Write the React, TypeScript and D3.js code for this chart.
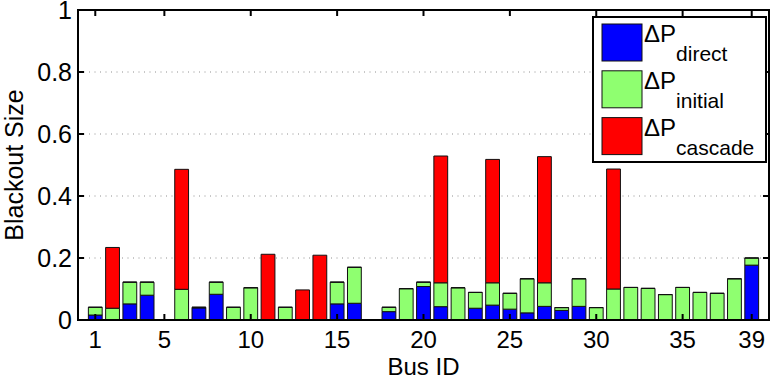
import React from 'react';
import * as d3 from 'd3';

// bus ids along the x axis
const busIds = [1, 2, 3, 4, 5, 6, 7, 8, 9, 10, 11, 12, 13, 14, 15, 16, 17, 18, 19, 20,
  21, 22, 23, 24, 25, 26, 27, 28, 29, 30, 31, 32, 33, 34, 35, 36, 37, 38, 39];

// stacked segment heights
const direct = [0.016, 0, 0.052, 0.080, 0, 0, 0.039, 0.083, 0, 0, 0, 0, 0, 0, 0.052, 0.054, 0, 0.027, 0, 0.108,
  0.043, 0, 0.038, 0.048, 0.035, 0.023, 0.044, 0.031, 0.044, 0, 0, 0, 0, 0, 0, 0, 0, 0, 0.177];
const initial = [0.025, 0.038, 0.070, 0.042, 0, 0.099, 0.002, 0.039, 0.041, 0.104, 0, 0.041, 0, 0, 0.070, 0.116, 0, 0.014, 0.101, 0.014,
  0.077, 0.104, 0.051, 0.072, 0.051, 0.110, 0.076, 0.009, 0.089, 0.040, 0.100, 0.105, 0.102, 0.082, 0.105, 0.089, 0.086, 0.133, 0.023];
const cascade = [0, 0.196, 0, 0, 0, 0.387, 0, 0, 0, 0, 0.212, 0, 0.097, 0.209, 0, 0, 0, 0, 0, 0,
  0.409, 0, 0, 0.398, 0, 0, 0.407, 0, 0, 0, 0.387, 0, 0, 0, 0, 0, 0, 0, 0];

const xTicks = [1, 5, 10, 15, 20, 25, 30, 35, 39];
const yTicks = [0, 0.2, 0.4, 0.6, 0.8, 1];
const yTickLabels = ['0', '0.2', '0.4', '0.6', '0.8', '1'];

const seriesNames = ['direct', 'initial', 'cascade'];
const colors = ['#0000ff', '#8fff70', '#ff0000'];

const W = 772;
const H = 381;
const left = 78, right = 769, top = 10, bottom = 320;
const font = '"Liberation Sans", Arial, Helvetica, sans-serif';

export default function App() {
  const x = d3.scaleLinear().domain([0, 40]).range([left, right]);
  const y = d3.scaleLinear().domain([0, 1]).range([bottom, top]);
  const barW = x(0.8) - x(0);

  const stackData = busIds.map((id, i) => ({ id, direct: direct[i], initial: initial[i], cascade: cascade[i] }));
  const stacked = d3.stack<any>().keys(seriesNames)(stackData);

  const segPath = (x0: number, y0: number, y1: number) => {
    const p = d3.path();
    p.rect(x0, y(y1), barW, y(y0) - y(y1));
    return p.toString();
  };

  const tickLen = 6;

  return (
    <svg width={W} height={H} style={{ position: 'absolute', left: 0, top: 0, background: '#fff' }}
      fontFamily={font}>
      <rect x={0} y={0} width={W} height={H} fill="#fff" />

      {/* grid */}
      {yTicks.slice(1, -1).map(t => (
        <line key={'g' + t} x1={left} x2={right} y1={y(t)} y2={y(t)}
          stroke="#909090" strokeWidth={1} strokeDasharray="1,4.5" />
      ))}

      {/* bars */}
      {stacked.map((layer, si) => (
        <g key={seriesNames[si]}>
          {layer.map((d, i) => (
            <path key={i} d={segPath(x(busIds[i]) - barW / 2, d[0], d[1])}
              fill={colors[si]} stroke="#111" strokeWidth={1} />
          ))}
        </g>
      ))}

      {/* axes box */}
      <rect x={left} y={top} width={right - left} height={bottom - top} fill="none" stroke="#000" strokeWidth={2} />

      {/* x ticks */}
      {xTicks.map(t => (
        <g key={'x' + t}>
          <line x1={x(t)} x2={x(t)} y1={bottom} y2={bottom - tickLen} stroke="#000" strokeWidth={2} />
          <line x1={x(t)} x2={x(t)} y1={top} y2={top + tickLen} stroke="#000" strokeWidth={2} />
          <text x={x(t)} y={348} textAnchor="middle" fontSize={24} fill="#000">{t}</text>
        </g>
      ))}

      {/* y ticks */}
      {yTicks.map((t, i) => (
        <g key={'y' + t}>
          <line x1={left} x2={left + tickLen} y1={y(t)} y2={y(t)} stroke="#000" strokeWidth={2} />
          <line x1={right} x2={right - tickLen} y1={y(t)} y2={y(t)} stroke="#000" strokeWidth={2} />
          <text x={72} y={y(t)} dy="0.36em" textAnchor="end" fontSize={25} fill="#000">{yTickLabels[i]}</text>
        </g>
      ))}

      {/* axis labels */}
      <text x={(left + right) / 2} y={375} textAnchor="middle" fontSize={24} fill="#000">Bus ID</text>
      <text transform={`translate(23,${(top + bottom) / 2}) rotate(-90)`} textAnchor="middle" fontSize={25} fill="#000">Blackout Size</text>

      {/* legend */}
      <g>
        <rect x={593} y={17} width={173} height={145} fill="#fff" stroke="#000" strokeWidth={2} />
        {seriesNames.map((name, i) => {
          const sy = 24 + i * 46.8;
          return (
            <g key={'l' + name}>
              <rect x={602} y={sy} width={40} height={37} fill={colors[i]} stroke="#111" strokeWidth={1} />
              <text x={644} y={sy + 18} fontSize={24} fill="#000">
                ΔP
                <tspan fontSize={21} dy={19}>{name}</tspan>
              </text>
            </g>
          );
        })}
      </g>
    </svg>
  );
}
